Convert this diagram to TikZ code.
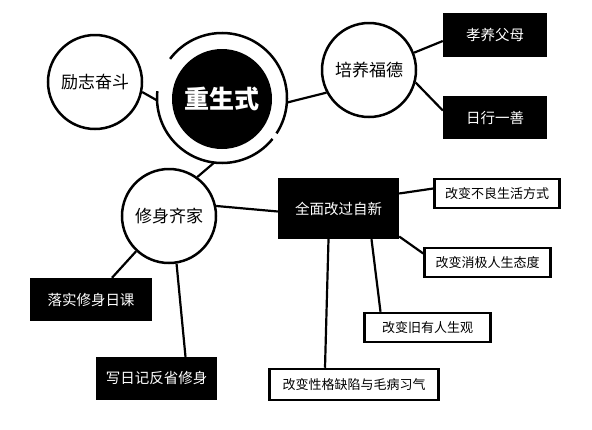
\documentclass[tikz,border=0pt]{standalone}
\usepackage{fontspec}
\setmainfont{Noto Sans CJK SC}

\begin{document}
\begin{tikzpicture}[
  x=1pt, y=-1pt,
  bubble/.style={draw, circle, line width=2.5pt, minimum size=94pt, inner sep=0pt, font=\fontsize{17}{20}\selectfont},
  darkbox/.style={fill=black, text=white, minimum height=43pt, inner sep=0pt, font=\fontsize{14.5}{17}\selectfont},
  lightbox/.style={draw, line width=2.5pt, minimum height=29pt, inner sep=0pt, font=\fontsize{13}{15}\selectfont},
  link/.style={line width=2.2pt},
  ringline/.style={line width=2.5pt}
]
  \useasboundingbox (0,0) rectangle (592,429);

  % centre
  \node[circle, fill=black, text=white, minimum size=100pt, inner sep=0pt, font=\fontsize{25}{28}\selectfont\bfseries] (core) at (222,99) {重生式};
  \node[circle, minimum size=130pt, inner sep=0pt] (ring) at (222,98) {};
  \draw[ringline] ([shift={(143:65pt)}]ring.center) arc[start angle=143, end angle=-33, radius=65pt];
  \draw[ringline] ([shift={(-39:65pt)}]ring.center) arc[start angle=-39, end angle=-186, radius=65pt];

  % circles
  \node[bubble] (lizhi) at (95,82) {励志奋斗};
  \node[bubble] (fude) at (369,70) {培养福德};
  \node[bubble] (xiushen) at (169,216) {修身齐家};

  % black boxes
  \node[darkbox, minimum width=104pt, minimum height=44pt] (xiao) at (495,35) {孝养父母};
  \node[darkbox, minimum width=104pt] (rixing) at (495,117.5) {日行一善};
  \node[darkbox, minimum width=121pt, minimum height=61pt] (quan) at (338.5,208.5) {全面改过自新};
  \node[darkbox, minimum width=122pt] (luoshi) at (91,299.5) {落实修身日课};
  \node[darkbox, minimum width=121pt] (xie) at (156.5,378.5) {写日记反省修身};

  % white boxes
  \node[lightbox, minimum width=125pt] (buliang) at (497,193.5) {改变不良生活方式};
  \node[lightbox, minimum width=126pt] (xiaoji) at (487.5,262.5) {改变消极人生态度};
  \node[lightbox, minimum width=126pt] (jiuyou) at (427.5,327.5) {改变旧有人生观};
  \node[lightbox, minimum width=169pt, minimum height=31pt] (xingge) at (354,384.5) {改变性格缺陷与毛病习气};

  % links
  \draw[link] (lizhi.-12) -- (ring.182);
  \draw[link] (ring.-4) -- (fude.208);
  \draw[link] (ring.-97) -- (xiushen.54);
  \draw[link] (fude.21) -- ([yshift=-6pt]xiao.west);
  \draw[link] (fude.-15) -- ([yshift=7pt]rixing.west);
  \draw[link] (xiushen.12) -- ([yshift=-3pt]quan.west);
  \draw[link] (xiushen.-133) -- ([xshift=21pt]luoshi.north);
  \draw[link] (xiushen.-81) -- ([xshift=29pt]xie.north);
  \draw[link] ([yshift=15pt]quan.east) -- ([yshift=5pt]buliang.west);
  \draw[link] ([yshift=-28pt]quan.east) -- ([yshift=9pt]xiaoji.west);
  \draw[link] ([xshift=33pt]quan.south) -- ([xshift=-47pt]jiuyou.north);
  \draw[link] ([xshift=-10pt]quan.south) -- ([xshift=-29pt]xingge.north);
\end{tikzpicture}
\end{document}
